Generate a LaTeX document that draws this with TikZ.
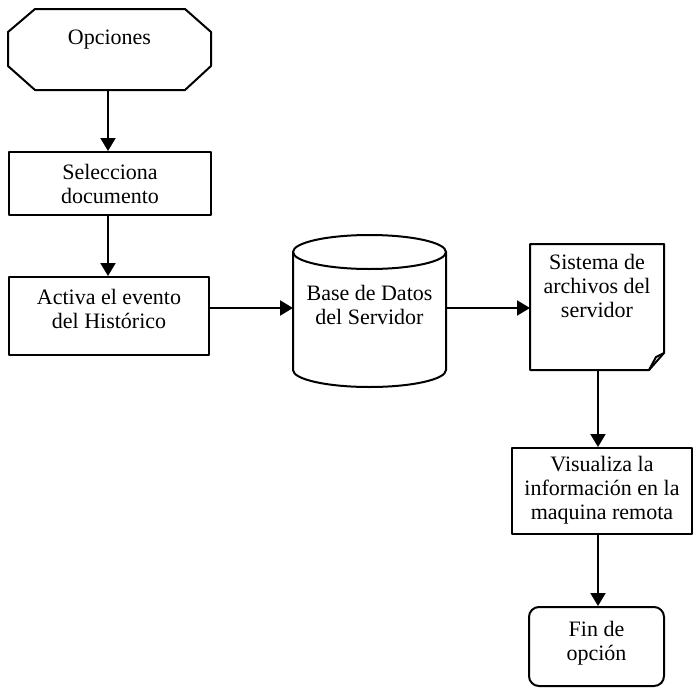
\documentclass[tikz,border=0pt]{standalone}
\usepackage{fontspec}
\setmainfont{Liberation Serif}
\usetikzlibrary{arrows.meta}
\begin{document}
\begin{tikzpicture}[x=1pt,y=-1pt,
  outline/.style={draw=black,line width=2pt,line join=round},
  box/.style={outline,rectangle,inner sep=0pt},
  txt/.style={align=center,font=\fontsize{22}{24}\selectfont,inner sep=0pt},
  flow/.style={draw=black,line width=2pt,-{Triangle[width=15pt,length=13pt]}}]
\useasboundingbox (0,0) rectangle (693,688);

% start terminal (octagon)
\draw[outline] (35,9) -- (185,9) -- (211,32) -- (211,66) -- (185,90) -- (35,90) -- (8,66) -- (8,32) -- cycle;
\node[txt] (opc) at (109.5,40) {Opciones};
\coordinate (opcS) at (108,90);

% process boxes
\node[box,minimum width=202pt,minimum height=63pt] (sel) at (110,183.5) {};
\node[txt] (selt) at (110,184) {Selecciona\\documento};

\node[box,minimum width=200pt,minimum height=78pt] (act) at (109,316) {};
\node[txt] (actt) at (109,309) {Activa el evento\\del Histórico};

% database cylinder
\draw[outline] (293,252) -- (293,370) arc[start angle=180,end angle=0,x radius=76.5,y radius=17] -- (446,252);
\draw[outline] (369.5,252) ellipse[x radius=76.5,y radius=17];
\node[txt] (db) at (369.5,305) {Base de Datos\\del Servidor};
\coordinate (dbW) at (293,308);
\coordinate (dbE) at (446,308);

% file-system document with folded corner
\draw[outline] (530,244) -- (664,244) -- (664,353) -- (649,370) -- (530,370) -- cycle;
\draw[outline] (664,353) -- (656,357) -- (649,370);
\node[txt] (sis) at (597,286) {Sistema de\\archivos del\\servidor};
\coordinate (sisW) at (530,308);
\coordinate (sisS) at (598,370);

% remote view box
\node[box,minimum width=180pt,minimum height=86pt] (vis) at (602,491) {};
\node[txt] (vist) at (602,490) {Visualiza la\\información en la\\maquina remota};

% end terminal
\node[outline,rectangle,rounded corners=10pt,minimum width=135pt,minimum height=79pt] (fin) at (596.5,646.5) {};
\node[txt] (fint) at (596.5,643) {Fin de\\opción};

% connectors
\draw[flow] (opcS) -- (sel.north -| opcS);
\draw[flow] (sel.south -| opcS) -- (act.north -| opcS);
\draw[flow] (act.east |- dbW) -- (dbW);
\draw[flow] (dbE) -- (sisW);
\draw[flow] (sisS) -- (vis.north -| sisS);
\draw[flow] (vis.south -| sisS) -- (fin.north -| sisS);
\end{tikzpicture}
\end{document}
